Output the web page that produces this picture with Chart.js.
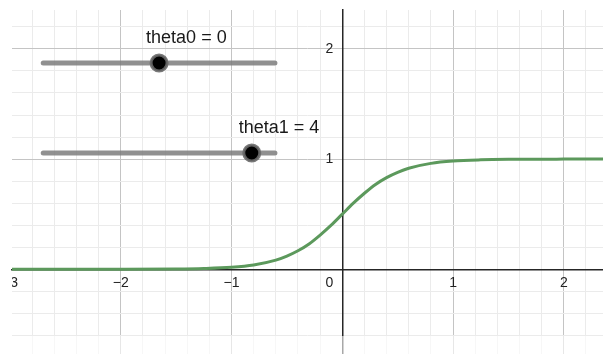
<!DOCTYPE html>
<html>
<head>
<meta charset="utf-8">
<script src="https://cdn.jsdelivr.net/npm/chart.js@4.4.0/dist/chart.umd.min.js"></script>
<style>
  html, body { margin: 0; padding: 0; background: #fff; }
  canvas { display: block; }
</style>
</head>
<body>
<canvas id="chart" width="603" height="354"></canvas>
<script>
// green curve, values
const curveX = [-3, -2.5, -2, -1.5, -1.25, -1, -0.8, -0.6, -0.5, -0.4, -0.3, -0.2, -0.1, 0,
  0.1, 0.2, 0.3, 0.4, 0.5, 0.6, 0.8, 1, 1.25, 1.5, 2, 2.5];
const curveY = [0, 0, 0.0003, 0.0025, 0.007, 0.018, 0.039, 0.083, 0.12, 0.168, 0.23, 0.31, 0.40, 0.50,
  0.60, 0.69, 0.77, 0.832, 0.88, 0.917, 0.961, 0.982, 0.993, 0.9975, 0.9997, 1];

// sliders
const sliderNames = ['theta0', 'theta1'];
const sliderValues = [0, 4];
const sliderMin = -5;
const sliderMax = 5;

// tick labels
const xTickLabels = [-3, -2, -1, 0, 1, 2];
const yTickLabels = [1, 2];

// view window and slider placement (in axis units)
const view = { xMin: -2.982, xMax: 2.354, yMin: -0.769, yMax: 2.353 };
const track = { left: -2.70, right: -0.608, rows: [1.872, 1.055] };

const fmt = v => (v < 0 ? '\u2212' + (-v) : String(v));
const isMajor = v => Math.abs(v - Math.round(v)) < 1e-6;

// grid every 0.2 units
function gridTicks(min, max) {
  const out = [];
  for (let i = Math.ceil(min * 5); i <= Math.floor(max * 5); i++) out.push({ value: i / 5 });
  return out;
}

const knobX = v => track.left + (v - sliderMin) / (sliderMax - sliderMin) * (track.right - track.left);

// lower order draws on top
const sliderSets = [];
sliderNames.forEach((name, i) => {
  const y = track.rows[i];
  sliderSets.push({
    label: name,
    data: [{ x: knobX(sliderValues[i]), y }],
    showLine: false,
    pointRadius: 8,
    pointBackgroundColor: '#000',
    pointBorderColor: 'rgba(105,105,105,0.9)',
    pointBorderWidth: 3,
    clip: false,
    order: 0
  });
  sliderSets.push({
    label: name + ' track',
    data: [{ x: track.left, y }, { x: track.right, y }],
    borderColor: 'rgba(125,125,125,0.85)',
    borderWidth: 5,
    borderCapStyle: 'round',
    pointRadius: 0,
    clip: false,
    order: 1
  });
});

const labelFont = '14px "Liberation Sans", Arial, sans-serif';

const extras = {
  id: 'extras',
  afterDatasetsDraw(chart) {
    const ctx = chart.ctx;
    const xs = chart.scales.x, ys = chart.scales.y;
    ctx.save();
    ctx.font = '18px "Liberation Sans", Arial, sans-serif';
    ctx.fillStyle = '#1a1a1a';
    ctx.textAlign = 'left';
    ctx.textBaseline = 'middle';
    sliderNames.forEach((name, i) => {
      const px = xs.getPixelForValue(knobX(sliderValues[i]));
      const py = ys.getPixelForValue(track.rows[i]);
      ctx.fillText(name + ' = ' + sliderValues[i], px - 13, py - 25);
    });
    ctx.restore();
  },
  afterDraw(chart) {
    const ctx = chart.ctx;
    const area = chart.chartArea;
    const xs = chart.scales.x, ys = chart.scales.y;
    const x0 = xs.getPixelForValue(0), y0 = ys.getPixelForValue(0);
    ctx.save();
    ctx.beginPath();
    ctx.rect(area.left, area.top, area.right - area.left, area.bottom - area.top);
    ctx.clip();
    ctx.font = labelFont;
    ctx.fillStyle = '#222';
    ctx.textBaseline = 'middle';
    ctx.textAlign = 'center';
    xTickLabels.forEach(v => {
      const px = v === 0 ? x0 - 13 : xs.getPixelForValue(v);
      ctx.fillText(fmt(v), px, y0 + 14);
    });
    ctx.textAlign = 'right';
    yTickLabels.forEach(v => {
      ctx.fillText(fmt(v), x0 - 9, ys.getPixelForValue(v));
    });
    // faded strip at the bottom
    ctx.fillStyle = 'rgba(255,255,255,0.6)';
    ctx.fillRect(area.left, 336, area.right - area.left, area.bottom - 336);
    ctx.restore();
  }
};

new Chart(document.getElementById('chart'), {
  type: 'line',
  data: {
    datasets: [
      {
        label: 'f',
        data: curveX.map((x, i) => ({ x, y: curveY[i] })),
        borderColor: 'rgb(92,153,92)',
        borderWidth: 3,
        pointRadius: 0,
        cubicInterpolationMode: 'monotone',
        order: 2
      },
      ...sliderSets
    ]
  },
  options: {
    responsive: false,
    animation: false,
    events: [],
    layout: { autoPadding: false, padding: { left: 12, top: 10, right: 0, bottom: 0 } },
    plugins: { legend: { display: false }, tooltip: { enabled: false } },
    scales: {
      x: {
        type: 'linear',
        min: view.xMin,
        max: view.xMax,
        position: { y: 0 },
        afterBuildTicks: s => { s.ticks = gridTicks(view.xMin, view.xMax); },
        ticks: { display: false },
        grid: {
          drawTicks: false,
          color: c => (c.tick && isMajor(c.tick.value) ? '#c4c4c4' : '#ebebeb'),
          lineWidth: 1
        },
        border: { display: true, color: '#262626', width: 1.5 }
      },
      y: {
        type: 'linear',
        min: view.yMin,
        max: view.yMax,
        position: { x: 0 },
        afterBuildTicks: s => { s.ticks = gridTicks(view.yMin, view.yMax); },
        ticks: { display: false },
        grid: {
          drawTicks: false,
          color: c => (c.tick && isMajor(c.tick.value) ? '#c4c4c4' : '#ebebeb'),
          lineWidth: 1
        },
        border: { display: true, color: '#262626', width: 1.5 }
      }
    }
  },
  plugins: [extras]
});
</script>
</body>
</html>
